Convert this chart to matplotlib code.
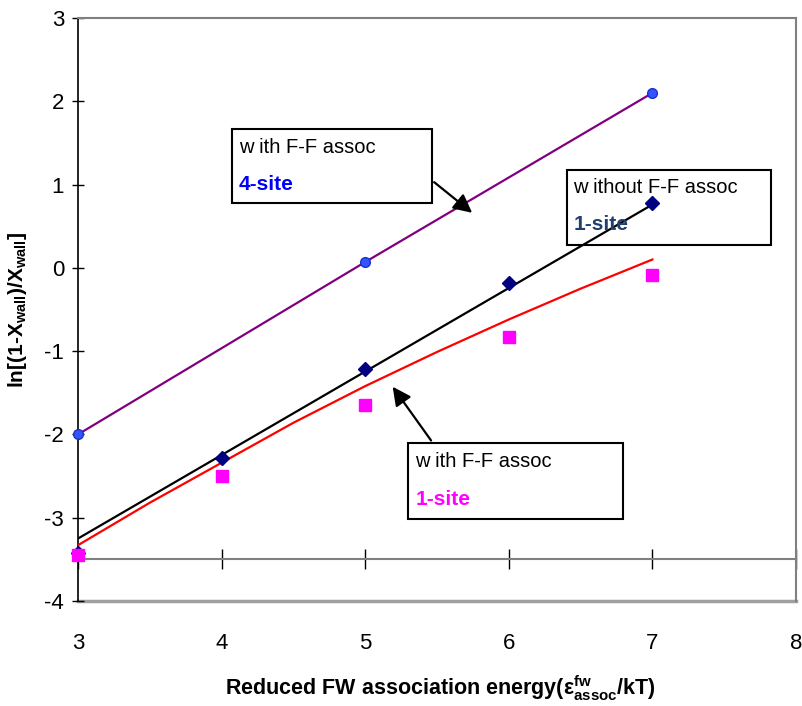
import matplotlib
matplotlib.use("Agg")
import matplotlib.pyplot as plt
from matplotlib import font_manager

names = {f.name for f in font_manager.fontManager.ttflist}
FONT = 'Liberation Sans Narrow' if 'Liberation Sans Narrow' in names else 'Liberation Sans'
plt.rcParams['font.family'] = [FONT, 'DejaVu Sans']
plt.rcParams['mathtext.fontset'] = 'custom'
plt.rcParams['mathtext.rm'] = FONT
plt.rcParams['mathtext.bf'] = FONT + ':bold'
plt.rcParams['mathtext.it'] = FONT + ':italic'
plt.rcParams['axes.unicode_minus'] = False

# data
x_pts = [3, 4, 5, 6, 7]
x_4site = [3, 5, 7]
y_4site = [-2.0, 0.07, 2.1]
y_without = [-3.42, -2.28, -1.22, -0.18, 0.78]
y_with1 = [-3.45, -2.50, -1.65, -0.83, -0.08]
fit_without_x = [3, 7]
fit_without_y = [-3.25, 0.76]
curve_with1_x = [3, 3.5, 4, 4.5, 5, 5.5, 6, 6.5, 7]
curve_with1_y = [-3.33, -2.82, -2.34, -1.86, -1.42, -1.01, -0.62, -0.25, 0.10]
xticks = [3, 4, 5, 6, 7, 8]
yticks = [-4, -3, -2, -1, 0, 1, 2, 3]

fig = plt.figure(figsize=(8.03, 7.06), dpi=100)
ax = fig.add_axes([78/803, 105/706, 718/803, 583/706])
ax.set_xlim(3, 8)
ax.set_ylim(-4, 3)

ax.plot(x_4site, y_4site, color='#800080', lw=1.6, zorder=3)
ax.plot(x_4site, y_4site, 'o', color='#3355FF', ms=7, mec='#1a2fd0', zorder=4, clip_on=False)
ax.plot(fit_without_x, fit_without_y, color='black', lw=1.6, zorder=3)
ax.plot(x_pts, y_without, 'D', color='#000080', ms=7, zorder=4, clip_on=False)
ax.plot(curve_with1_x, curve_with1_y, color='#FF0000', lw=1.6, zorder=3)
ax.plot(x_pts, y_with1, 's', color='#FF00FF', ms=8, zorder=4, clip_on=False)

# axes styling
for s in ['top', 'right']:
    ax.spines[s].set_color('#808080')
    ax.spines[s].set_linewidth(1.5)
ax.spines['left'].set_color('black')
ax.spines['left'].set_linewidth(1.2)
ax.spines['bottom'].set_position(('data', -3.5))
ax.spines['bottom'].set_color('#808080')
ax.spines['bottom'].set_linewidth(1.5)
ax.axhline(-4, color='#a0a0a0', lw=2.5, clip_on=False, zorder=1)

ax.set_xticks(xticks)
ax.set_yticks(yticks)
ax.tick_params(axis='x', direction='inout', length=14, width=1, color='black',
               labelsize=16, pad=46)
ax.tick_params(axis='y', direction='inout', length=8, width=1, color='black',
               labelsize=16, pad=6)

ax.set_xlabel(r"Reduced FW association energy(ε$^{\bf fw}_{\bf assoc}$/kT)",
              fontsize=15.5, fontweight='bold')
ax.xaxis.set_label_coords(0.505, -0.125)
ax.set_ylabel(r"ln[(1-X$_{\bf wall}$)/X$_{\bf wall}$]", fontsize=15, fontweight='bold')
ax.yaxis.set_label_coords(-0.068, 0.5)

def box(x0, y0, x1, y1):
    ax.add_patch(plt.Rectangle((x0, y0), x1 - x0, y1 - y0, fill=False,
                               edgecolor='black', lw=1.5, zorder=2))

# box 1
box(4.07, 0.78, 5.465, 1.67)
ax.text(4.12, 1.45, "w ith F-F assoc", fontsize=14.5, va='center', ha='left')
ax.text(4.12, 1.0, "4-site", fontsize=15, va='center', ha='left', color='#0000FF', fontweight='bold')
ax.annotate("", xy=(5.76, 0.64), xytext=(5.465, 1.05),
            arrowprops=dict(arrowstyle='-|>', color='black', lw=1.6, mutation_scale=28))

# box 2
box(6.405, 0.28, 7.826, 1.18)
ax.text(6.45, 0.96, "w ithout F-F assoc", fontsize=14.5, va='center', ha='left')
ax.text(6.45, 0.52, "1-site", fontsize=15, va='center', ha='left', color='#1F3F6F', fontweight='bold')

# box 3
box(5.30, -3.02, 6.795, -2.10)
ax.text(5.35, -2.33, "w ith F-F assoc", fontsize=14.5, va='center', ha='left')
ax.text(5.35, -2.78, "1-site", fontsize=15, va='center', ha='left', color='#FF00FF', fontweight='bold')
ax.annotate("", xy=(5.18, -1.40), xytext=(5.47, -2.10),
            arrowprops=dict(arrowstyle='-|>', color='black', lw=1.6, mutation_scale=28))

fig.savefig("out.png", dpi=100)
